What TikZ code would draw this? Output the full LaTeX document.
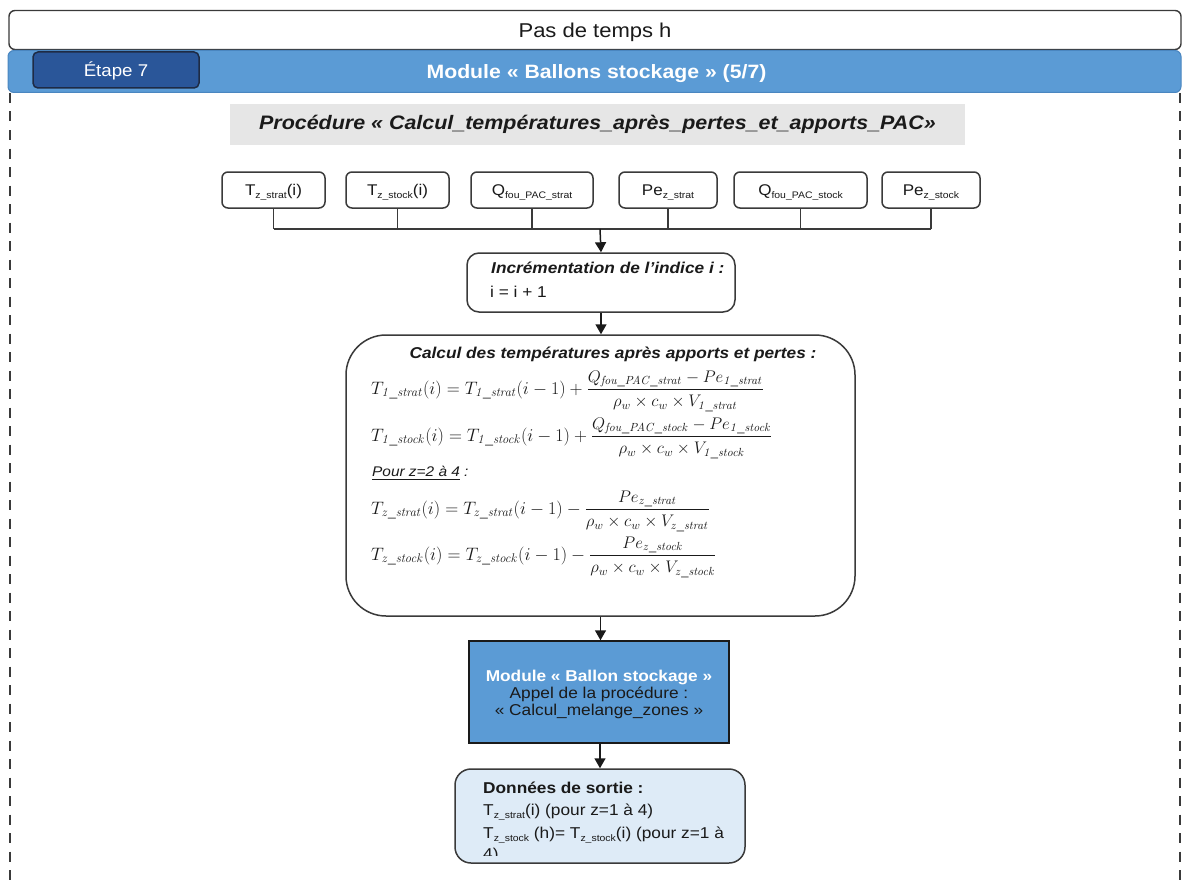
\RequirePackage{fix-cm}
\documentclass[tikz,border=0pt]{standalone}
\usepackage[no-math]{fontspec}
\setmainfont{Liberation Sans}[FakeStretch=1.1]
\usepackage{amsmath}
\usetikzlibrary{arrows.meta}

\definecolor{bandblue}{HTML}{5B9BD5}
\definecolor{bandedge}{HTML}{4A86C0}
\definecolor{etapeblue}{HTML}{2A5699}
\definecolor{etapeedge}{HTML}{1E2B45}
\definecolor{titlegray}{HTML}{E6E6E6}
\definecolor{boxline}{HTML}{3A3A3A}
\definecolor{outfill}{HTML}{DEEBF7}
\definecolor{ink}{HTML}{1A1A1A}

% small lowered subscript used in the sans labels
\newcommand{\lowsub}[1]{\raisebox{-0.35ex}{\fontsize{9.5}{10}\selectfont #1}}
\newcommand{\msub}[1]{\mathit{#1}}
% numerator / denominator of the balance fractions, set a little smaller
\newcommand{\fracpart}[1]{\mbox{\fontsize{16.8}{19}\selectfont$#1$}}
\newcommand{\bodyfont}{\fontsize{15.7}{18}\selectfont}
% lower a label inside its box without changing the box size
\newcommand{\lowered}[2]{\raisebox{-#1}[\height][\depth]{#2}}

\tikzset{
  topbox/.style={draw=boxline, line width=1.4pt, rounded corners=6pt, fill=white,
    font=\fontsize{20}{23}\selectfont, text=ink},
  bandbox/.style={draw=bandedge, line width=1pt, rounded corners=6pt, fill=bandblue,
    font=\fontsize{19.3}{22}\selectfont\bfseries, text=white},
  etapebox/.style={draw=etapeedge, line width=1.5pt, rounded corners=5pt, fill=etapeblue,
    font=\fontsize{17}{20}\selectfont, text=white},
  procbox/.style={fill=titlegray, font=\fontsize{19.5}{22}\selectfont\bfseries\itshape, text=ink},
  inbox/.style={draw=boxline, line width=1.5pt, rounded corners=6pt, fill=white,
    minimum height=36pt, font=\fontsize{15.5}{17}\selectfont, text=ink, inner sep=0pt},
  stepbox/.style={draw=boxline, line width=1.5pt, fill=white, text=ink},
  bus/.style={draw=boxline, line width=1.1pt},
  flow/.style={draw=ink, line width=1.5pt, -{Triangle[length=10pt,width=11pt]}},
  frameline/.style={draw=boxline, line width=2pt, dash pattern=on 10pt off 8.5pt},
  txt/.style={inner sep=0pt, text=ink, anchor=west},
}

\begin{document}
\begin{tikzpicture}[x=1pt,y=-1pt]
\useasboundingbox (0,0) rectangle (1182,880);
\fill[white] (0,0) rectangle (1182,880);

% dashed frame of the step
\draw[frameline] (10,93) -- (10,882);
\draw[frameline] (1180,93) -- (1180,882);

% header
\node[topbox, minimum width=1172pt, minimum height=39pt] (pas) at (595,30) {\lowered{2pt}{Pas de temps h}};
\node[bandbox, minimum width=1173pt, minimum height=42pt] (band) at (594.5,71.5)
  {\lowered{2pt}{\hspace{4pt}Module « Ballons stockage » (5/7)}};
\node[etapebox, minimum width=166pt, minimum height=36pt] (etape) at (116,70) {\lowered{1pt}{Étape 7}};

% procedure title
\node[procbox, minimum width=735pt, minimum height=41pt] (proc) at (597.5,124.5)
  {Procédure « Calcul\_températures\_après\_pertes\_et\_apports\_PAC»};

% inputs
\node[inbox, minimum width=103pt] (in1) at (273.5,190) {\lowered{2.5pt}{T\lowsub{z\_strat}(i)}};
\node[inbox, minimum width=103pt] (in2) at (397.5,190) {\lowered{2.5pt}{T\lowsub{z\_stock}(i)}};
\node[inbox, minimum width=122pt] (in3) at (532,190) {\lowered{2.5pt}{Q\lowsub{fou\_PAC\_strat}}};
\node[inbox, minimum width=98pt]  (in4) at (668,190) {\lowered{2.5pt}{Pe\lowsub{z\_strat}}};
\node[inbox, minimum width=133pt] (in5) at (800.5,190) {\lowered{2.5pt}{Q\lowsub{fou\_PAC\_stock}}};
\node[inbox, minimum width=98pt]  (in6) at (931,190) {\lowered{2.5pt}{Pe\lowsub{z\_stock}}};

\coordinate (busc) at (600,229);
\foreach \k in {1,...,6} {\draw[bus] (in\k.south) -- (in\k.south |- busc);}
\draw[bus] (in1.south |- busc) -- (in6.south |- busc);

% index increment
\node[stepbox, rounded corners=12pt, minimum width=268pt, minimum height=59pt] (incr) at (601,282.5) {};
\node[txt, font=\bodyfont\bfseries\itshape] (incrt) at (491,268)
  {Incrémentation de l’indice i :};
\node[txt, font=\bodyfont] (incri) at (490,292) {i = i + 1};

% temperatures after gains and losses
\node[stepbox, rounded corners=40pt, minimum width=509pt, minimum height=281pt] (calc) at (600.5,475.5) {};
\node[inner sep=0pt, text=ink, font=\bodyfont\bfseries\itshape] (calct) at (613,354)
  {Calcul des températures après apports et pertes :};
\begin{scope}[every node/.style={txt, font=\fontsize{18}{20}\selectfont}]
\node (eq1) at (371,391) {$T_{\msub{1\_strat}}(i) = T_{\msub{1\_strat}}(i-1) + \dfrac{\fracpart{Q_{\msub{fou\_PAC\_strat}} - Pe_{\msub{1\_strat}}}}{\fracpart{\rho_w \times c_w \times V_{\msub{1\_strat}}}}$};
\node (eq2) at (371,438) {$T_{\msub{1\_stock}}(i) = T_{\msub{1\_stock}}(i-1) + \dfrac{\fracpart{Q_{\msub{fou\_PAC\_stock}} - Pe_{\msub{1\_stock}}}}{\fracpart{\rho_w \times c_w \times V_{\msub{1\_stock}}}}$};
\node[font=\fontsize{14}{16}\selectfont] (pour) at (372,473) {\itshape\underline{Pour z=2 à 4} :};
\node (eq3) at (371,511) {$T_{\msub{z\_strat}}(i) = T_{\msub{z\_strat}}(i-1) - \dfrac{\fracpart{Pe_{\msub{z\_strat}}}}{\fracpart{\rho_w \times c_w \times V_{\msub{z\_strat}}}}$};
\node (eq4) at (371,557) {$T_{\msub{z\_stock}}(i) = T_{\msub{z\_stock}}(i-1) - \dfrac{\fracpart{Pe_{\msub{z\_stock}}}}{\fracpart{\rho_w \times c_w \times V_{\msub{z\_stock}}}}$};
\end{scope}

% mixing module
\node[draw=ink, line width=1.5pt, fill=bandblue, minimum width=260pt, minimum height=102pt] (mix) at (599,692) {};
\node[inner sep=0pt, align=center, font=\bodyfont, text=ink] (mixt) at (599,694)
  {\textcolor{white}{\bfseries Module « Ballon stockage »}\\[-1pt]Appel de la procédure :\\[-1pt]« Calcul\_melange\_zones »};

% outputs
\node[stepbox, fill=outfill, rounded corners=16pt, minimum width=290pt, minimum height=94pt] (out) at (600,816) {};
\node[txt, font=\bodyfont\bfseries] (outt) at (483,788) {Données de sortie :};
\node[txt, font=\bodyfont] (out1) at (483,812) {T\lowsub{z\_strat}(i) (pour z=1 à 4)};
\node[txt, font=\bodyfont] (out2) at (483,835) {T\lowsub{z\_stock} (h)= T\lowsub{z\_stock}(i) (pour z=1 à};
\begin{scope}
\clip (460,770) rectangle (740,855);
\node[txt, font=\bodyfont] (out3) at (483,855) {4)};
\end{scope}

% flow
\draw[flow] (busc) -- (incr.north);
\draw[flow] (incr.south) -- (calc.north -| incr.south);
\draw[flow] (calc.south) -- (mix.north -| calc.south);
\draw[flow] (mix.south -| out.north) -- (out.north);
\end{tikzpicture}
\end{document}
